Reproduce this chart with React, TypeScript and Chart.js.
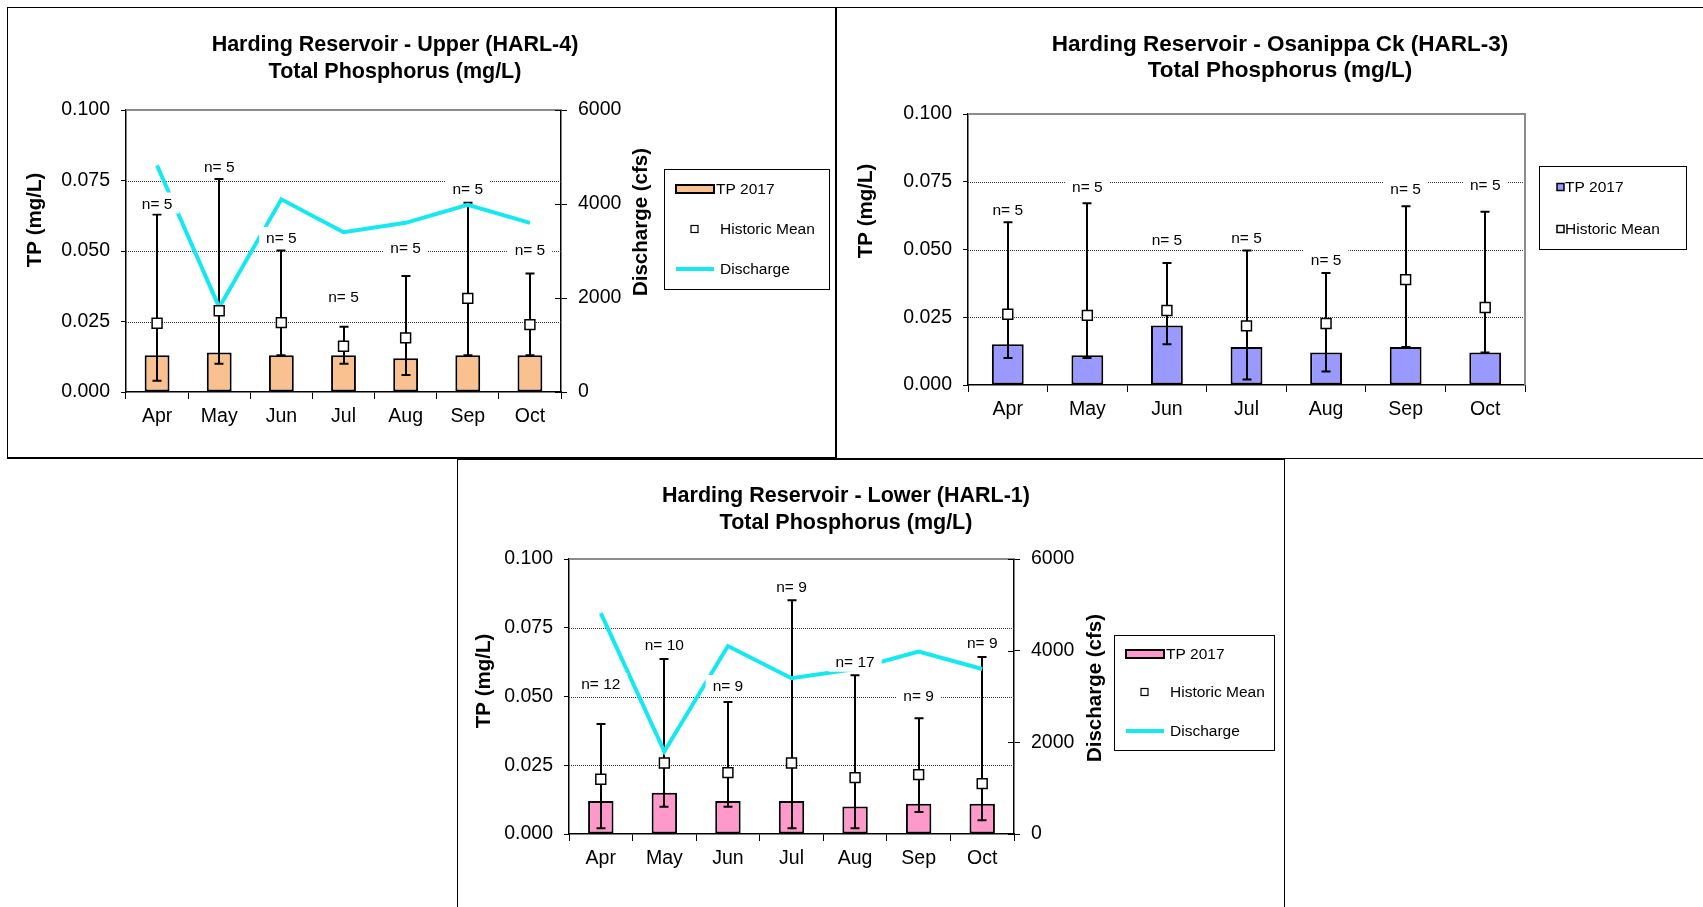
import React, { useEffect, useRef } from 'react';
import { Chart, registerables } from 'chart.js';

Chart.register(...registerables);

// ---------------- data ----------------
const months = ['Apr', 'May', 'Jun', 'Jul', 'Aug', 'Sep', 'Oct'];
const tpTickValues = [0, 0.025, 0.05, 0.075, 0.1];
const tpTickLabels = ['0.000', '0.025', '0.050', '0.075', '0.100'];
const qTickValues = [0, 2000, 4000, 6000];
const qTickLabels = ['0', '2000', '4000', '6000'];

const discharge2017 = [4820, 1800, 4100, 3400, 3600, 3980, 3600];

// HARL-4 (Upper)
const upperTP2017 = [0.013, 0.014, 0.013, 0.013, 0.012, 0.013, 0.013];
const upperMean = [0.0244, 0.0288, 0.0246, 0.0162, 0.0192, 0.0332, 0.0239];
const upperLow = [0.004, 0.01, 0.013, 0.01, 0.006, 0.013, 0.013];
const upperHigh = [0.0629, 0.0755, 0.0502, 0.0231, 0.0411, 0.0671, 0.042];
const upperN = [5, 5, 5, 5, 5, 5, 5];
const upperNLabelValue = [0.0663, 0.0795, 0.0541, 0.0331, 0.0507, 0.0714, 0.0499];

// HARL-3 (Osanippa Ck)
const osaTP2017 = [0.015, 0.011, 0.022, 0.014, 0.012, 0.014, 0.012];
const osaMean = [0.0261, 0.0257, 0.0275, 0.0218, 0.0227, 0.0389, 0.0286];
const osaLow = [0.01, 0.01, 0.015, 0.002, 0.005, 0.014, 0.012];
const osaHigh = [0.0601, 0.0671, 0.045, 0.0496, 0.0413, 0.066, 0.0639];
const osaN = [5, 5, 5, 5, 5, 5, 5];
const osaNLabelValue = [0.0642, 0.0727, 0.0531, 0.0539, 0.0456, 0.0718, 0.0734];

// HARL-1 (Lower)
const lowerTP2017 = [0.012, 0.015, 0.012, 0.012, 0.01, 0.011, 0.011];
const lowerMean = [0.0199, 0.0258, 0.0223, 0.0258, 0.0205, 0.0216, 0.0183];
const lowerLow = [0.0021, 0.0099, 0.0099, 0.0021, 0.0021, 0.008, 0.005];
const lowerHigh = [0.04, 0.0636, 0.048, 0.085, 0.0577, 0.0421, 0.0644];
const lowerN = [12, 10, 9, 9, 17, 9, 9];
const lowerNLabelValue = [0.054, 0.0682, 0.0533, 0.0893, 0.0621, 0.0499, 0.0691];

// ---------------- styling / layout ----------------
const FONT = '"Liberation Sans", Arial, Helvetica, sans-serif';
const CYAN = '#14E8F0';
const Y2_WIDTH = 80;
const X_HEIGHT = 40;

interface PanelSpec {
  id: string;
  title: string[];
  titleSize: number;
  tp: number[];
  mean: number[];
  low: number[];
  high: number[];
  n: number[];
  nAt: number[];
  q: number[] | null;
  barColor: string;
  box: { x: number; y: number; w: number; h: number };
  area: { l: number; t: number; r: number; b: number };
  titleX: number;
  titleY: number[];
  yTitle: { x: number; y: number };
  qTitle: { x: number; y: number } | null;
  legend: { x: number; y: number; w: number; h: number; rows: number[]; compact: boolean };
}

const panels: PanelSpec[] = [
  {
    id: 'upper',
    title: ['Harding Reservoir - Upper (HARL-4)', 'Total Phosphorus (mg/L)'],
    titleSize: 21.5,
    tp: upperTP2017, mean: upperMean, low: upperLow, high: upperHigh, n: upperN, nAt: upperNLabelValue,
    q: discharge2017,
    barColor: '#F9C090',
    box: { x: 8, y: 8, w: 827, h: 450 },
    area: { l: 118, t: 102, r: 553, b: 384 },
    titleX: 395, titleY: [45, 72],
    yTitle: { x: 35, y: 220 },
    qTitle: { x: 641, y: 222 },
    legend: { x: 664, y: 169, w: 165, h: 120, rows: [189, 229, 269], compact: false },
  },
  {
    id: 'osa',
    title: ['Harding Reservoir - Osanippa Ck (HARL-3)', 'Total Phosphorus (mg/L)'],
    titleSize: 22.5,
    tp: osaTP2017, mean: osaMean, low: osaLow, high: osaHigh, n: osaN, nAt: osaNLabelValue,
    q: null,
    barColor: '#9999FF',
    box: { x: 836, y: 8, w: 867, h: 450 },
    area: { l: 132, t: 106, r: 689, b: 377 },
    titleX: 1280, titleY: [45, 71],
    yTitle: { x: 866, y: 211 },
    qTitle: null,
    legend: { x: 1539, y: 166, w: 147, h: 83, rows: [187, 229], compact: true },
  },
  {
    id: 'lower',
    title: ['Harding Reservoir - Lower (HARL-1)', 'Total Phosphorus (mg/L)'],
    titleSize: 21.5,
    tp: lowerTP2017, mean: lowerMean, low: lowerLow, high: lowerHigh, n: lowerN, nAt: lowerNLabelValue,
    q: discharge2017,
    barColor: '#FF99CC',
    box: { x: 458, y: 460, w: 826, h: 447 },
    area: { l: 111, t: 99, r: 556, b: 374 },
    titleX: 846, titleY: [496, 523],
    yTitle: { x: 484.5, y: 681 },
    qTitle: { x: 1095, y: 688 },
    legend: { x: 1114, y: 635, w: 160, h: 115, rows: [654, 692, 731], compact: false },
  },
];

function decorPlugin(spec: PanelSpec) {
  const ox = spec.box.x;
  const oy = spec.box.y;
  const whiskerBefore = spec.q ? 2 : 1;
  return {
    id: 'decor_' + spec.id,
    beforeDatasetsDraw(chart: any) {
      const { ctx, chartArea: a } = chart;
      const y = chart.scales.y;
      ctx.save();
      ctx.strokeStyle = '#3a3a3a';
      ctx.lineWidth = 1;
      ctx.setLineDash([1, 1]);
      for (let i = 1; i < tpTickValues.length - 1; i++) {
        const py = Math.round(y.getPixelForValue(tpTickValues[i])) + 0.5;
        ctx.beginPath();
        ctx.moveTo(a.left, py);
        ctx.lineTo(a.right, py);
        ctx.stroke();
      }
      ctx.setLineDash([]);
      ctx.strokeStyle = '#8c8c8c';
      ctx.lineWidth = 2;
      const top = y.getPixelForValue(tpTickValues[tpTickValues.length - 1]);
      ctx.beginPath();
      ctx.moveTo(a.left, top);
      ctx.lineTo(a.right, top);
      if (!spec.q) ctx.lineTo(a.right, a.bottom);
      ctx.stroke();
      ctx.restore();
    },
    beforeDatasetDraw(chart: any, args: any) {
      if (args.index !== whiskerBefore) return;
      const { ctx } = chart;
      const x = chart.scales.x;
      const y = chart.scales.y;
      ctx.save();
      ctx.strokeStyle = '#000';
      ctx.lineWidth = 2;
      for (let i = 0; i < months.length; i++) {
        const px = Math.round(x.getPixelForValue(i));
        const yt = y.getPixelForValue(spec.high[i]);
        const yb = y.getPixelForValue(spec.low[i]);
        ctx.beginPath();
        ctx.moveTo(px, yt);
        ctx.lineTo(px, yb);
        ctx.moveTo(px - 4.5, yt);
        ctx.lineTo(px + 4.5, yt);
        ctx.moveTo(px - 4.5, yb);
        ctx.lineTo(px + 4.5, yb);
        ctx.stroke();
      }
      ctx.restore();
    },
    afterDatasetsDraw(chart: any) {
      const { ctx } = chart;
      const x = chart.scales.x;
      const y = chart.scales.y;
      ctx.save();
      ctx.font = `15.5px ${FONT}`;
      ctx.textAlign = 'center';
      ctx.textBaseline = 'middle';
      for (let i = 0; i < months.length; i++) {
        const text = `n= ${spec.n[i]}`;
        const w = ctx.measureText(text).width;
        const cx = x.getPixelForValue(i);
        const cy = y.getPixelForValue(spec.nAt[i]) - 1.5;
        ctx.fillStyle = '#fff';
        ctx.fillRect(cx - w / 2 - 7, cy - 11, w + 14, 21);
        ctx.fillStyle = '#000';
        ctx.fillText(text, cx, cy + 1);
      }
      ctx.restore();
    },
    afterDraw(chart: any) {
      const { ctx, chartArea: a } = chart;
      ctx.save();
      if (spec.q) {
        const y2 = chart.scales.y2;
        ctx.strokeStyle = '#000';
        ctx.lineWidth = 1;
        for (const v of qTickValues) {
          const py = Math.round(y2.getPixelForValue(v)) + 0.5;
          ctx.beginPath();
          ctx.moveTo(a.right - 6, py);
          ctx.lineTo(a.right, py);
          ctx.stroke();
        }
      }
      ctx.fillStyle = '#000';
      ctx.textAlign = 'center';
      ctx.textBaseline = 'middle';
      ctx.font = `bold ${spec.titleSize}px ${FONT}`;
      spec.title.forEach((t, i) => ctx.fillText(t, spec.titleX - ox, spec.titleY[i] - oy));
      ctx.font = `bold 20.5px ${FONT}`;
      const rot = (text: string, px: number, py: number) => {
        ctx.save();
        ctx.translate(px - ox, py - oy);
        ctx.rotate(-Math.PI / 2);
        ctx.fillText(text, 0, 0);
        ctx.restore();
      };
      rot('TP (mg/L)', spec.yTitle.x, spec.yTitle.y);
      if (spec.qTitle) rot('Discharge (cfs)', spec.qTitle.x, spec.qTitle.y);
      const L = spec.legend;
      const lx = L.x - ox;
      const ly = L.y - oy;
      ctx.fillStyle = '#fff';
      ctx.fillRect(lx, ly, L.w, L.h);
      ctx.strokeStyle = '#000';
      ctx.lineWidth = 1;
      ctx.strokeRect(lx + 0.5, ly + 0.5, L.w, L.h);
      ctx.font = `15.5px ${FONT}`;
      ctx.textAlign = 'left';
      const r = L.rows.map((v) => v - oy);
      if (L.compact) {
        ctx.fillStyle = spec.barColor;
        ctx.fillRect(lx + 18, r[0] - 3.5, 7, 7);
        ctx.strokeStyle = '#000';
        ctx.lineWidth = 1.5;
        ctx.strokeRect(lx + 18, r[0] - 3.5, 7, 7);
        ctx.fillStyle = '#fff';
        ctx.fillRect(lx + 18, r[1] - 3.5, 7, 7);
        ctx.strokeRect(lx + 18, r[1] - 3.5, 7, 7);
        ctx.fillStyle = '#000';
        ctx.fillText('TP 2017', lx + 26, r[0] + 1);
        ctx.fillText('Historic Mean', lx + 26, r[1] + 1);
      } else {
        ctx.fillStyle = spec.barColor;
        ctx.fillRect(lx + 12, r[0] - 4, 38, 8);
        ctx.strokeStyle = '#000';
        ctx.lineWidth = 2;
        ctx.strokeRect(lx + 12, r[0] - 4, 38, 8);
        ctx.fillStyle = '#fff';
        ctx.lineWidth = 1.2;
        ctx.fillRect(lx + 27, r[1] - 3.5, 7, 7);
        ctx.strokeRect(lx + 27, r[1] - 3.5, 7, 7);
        ctx.strokeStyle = CYAN;
        ctx.lineWidth = 4;
        ctx.beginPath();
        ctx.moveTo(lx + 12, r[2]);
        ctx.lineTo(lx + 50, r[2]);
        ctx.stroke();
        ctx.fillStyle = '#000';
        ctx.fillText('TP 2017', lx + 52, r[0] + 1);
        ctx.fillText('Historic Mean', lx + 56, r[1] + 1);
        ctx.fillText('Discharge', lx + 56, r[2] + 1);
      }
      ctx.restore();
    },
  };
}

function buildConfig(spec: PanelSpec): any {
  const tickFont = { family: FONT, size: 19.5 };
  const datasets: any[] = [
    {
      type: 'bar',
      label: 'TP 2017',
      data: spec.tp,
      backgroundColor: spec.barColor,
      borderColor: '#000',
      borderWidth: 2,
      borderSkipped: false,
      barPercentage: 0.4,
      categoryPercentage: 1,
      yAxisID: 'y',
      order: 3,
    },
    {
      type: 'line',
      label: 'Historic Mean',
      data: spec.mean,
      showLine: false,
      pointStyle: 'rect',
      pointRadius: 7,
      pointBackgroundColor: '#fff',
      pointBorderColor: '#000',
      pointBorderWidth: 1.5,
      yAxisID: 'y',
      order: 1,
    },
  ];
  if (spec.q) {
    datasets.push({
      type: 'line',
      label: 'Discharge',
      data: spec.q,
      borderColor: CYAN,
      borderWidth: 4,
      pointRadius: 0,
      tension: 0,
      yAxisID: 'y2',
      order: 2,
    });
  }
  const scales: any = {
    x: {
      type: 'category',
      labels: months,
      offset: true,
      grid: { offset: true, drawOnChartArea: false, drawTicks: true, tickLength: 7, color: '#000', lineWidth: 1 },
      border: { display: true, color: '#000', width: 1.5 },
      ticks: { font: tickFont, color: '#000', padding: 6, maxRotation: 0, autoSkip: false },
      afterFit: (s: any) => { s.height = X_HEIGHT; },
    },
    y: {
      type: 'linear',
      position: 'left',
      min: tpTickValues[0],
      max: tpTickValues[tpTickValues.length - 1],
      afterBuildTicks: (s: any) => { s.ticks = tpTickValues.map((value) => ({ value })); },
      ticks: { font: tickFont, color: '#000', padding: 11, callback: (_v: any, i: number) => tpTickLabels[i] },
      grid: { drawOnChartArea: false, drawTicks: true, tickLength: 5, color: '#000', lineWidth: 1 },
      border: { display: true, color: '#000', width: 1.5 },
      afterFit: (s: any) => { s.width = spec.area.l; },
    },
  };
  if (spec.q) {
    scales.y2 = {
      type: 'linear',
      position: 'right',
      min: qTickValues[0],
      max: qTickValues[qTickValues.length - 1],
      afterBuildTicks: (s: any) => { s.ticks = qTickValues.map((value) => ({ value })); },
      ticks: { font: tickFont, color: '#000', padding: 11, callback: (_v: any, i: number) => qTickLabels[i] },
      grid: { drawOnChartArea: false, drawTicks: true, tickLength: 6, color: '#000', lineWidth: 1 },
      border: { display: true, color: '#000', width: 1.5 },
      afterFit: (s: any) => { s.width = Y2_WIDTH; },
    };
  }
  const padRight = spec.box.w - spec.area.r - (spec.q ? Y2_WIDTH : 0);
  const padBottom = spec.box.h - spec.area.b - X_HEIGHT;
  return {
    type: 'bar',
    data: { labels: months, datasets },
    options: {
      responsive: false,
      maintainAspectRatio: false,
      animation: false,
      devicePixelRatio: 1,
      events: [],
      layout: { padding: { left: 0, top: spec.area.t, right: padRight, bottom: padBottom } },
      plugins: { legend: { display: false }, title: { display: false }, tooltip: { enabled: false } },
      scales,
    },
    plugins: [decorPlugin(spec)],
  };
}

function Panel({ spec }: { spec: PanelSpec }) {
  const ref = useRef<HTMLCanvasElement>(null);
  useEffect(() => {
    const chart = new Chart(ref.current as HTMLCanvasElement, buildConfig(spec));
    return () => chart.destroy();
  }, [spec]);
  return (
    <canvas
      ref={ref}
      width={spec.box.w}
      height={spec.box.h}
      style={{ position: 'absolute', left: spec.box.x, top: spec.box.y, width: spec.box.w, height: spec.box.h }}
    />
  );
}

const frame = (l: number, t: number, w: number, h: number, extra: any = {}) => ({
  position: 'absolute' as const,
  left: l,
  top: t,
  width: w,
  height: h,
  boxSizing: 'border-box' as const,
  border: '1px solid #000',
  ...extra,
});

export default function App() {
  return (
    <div style={{ position: 'fixed', left: 0, top: 0, width: 1703, height: 907, background: '#fff', overflow: 'hidden' }}>
      <div style={frame(7, 7, 829, 452, { borderBottomWidth: 2 })} />
      <div style={frame(835, 7, 880, 452, { borderLeftWidth: 2 })} />
      <div style={frame(457, 458, 828, 460, { borderTopWidth: 2, borderRightWidth: 1 })} />
      {panels.map((p) => (
        <Panel key={p.id} spec={p} />
      ))}
    </div>
  );
}
